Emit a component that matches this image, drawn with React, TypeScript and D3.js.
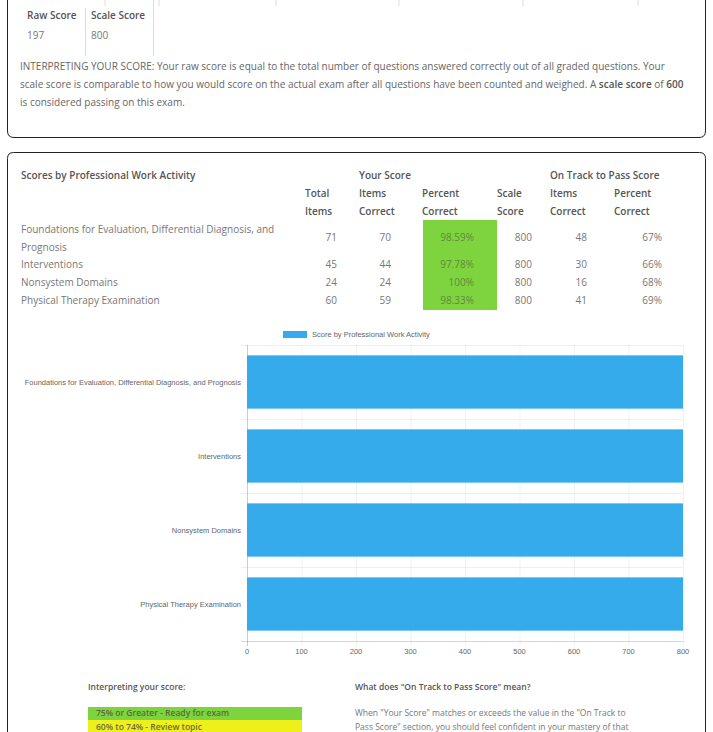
import React from "react";
import * as d3 from "d3";

const categories = [
  "Foundations for Evaluation, Differential Diagnosis, and Prognosis",
  "Interventions",
  "Nonsystem Domains",
  "Physical Therapy Examination",
];
const tableLabels = [
  ["Foundations for Evaluation, Differential Diagnosis, and", "Prognosis"],
  ["Interventions"],
  ["Nonsystem Domains"],
  ["Physical Therapy Examination"],
];
const totalItems = [71, 45, 24, 60];
const itemsCorrect = [70, 44, 24, 59];
const percentCorrect = ["98.59%", "97.78%", "100%", "98.33%"];
const scaleScores = [800, 800, 800, 800];
const onTrackItems = [48, 30, 16, 41];
const onTrackPercent = ["67%", "66%", "68%", "69%"];
const xTicks = [0, 100, 200, 300, 400, 500, 600, 700, 800];
const rawScore = 197;
const scaleScore = 800;
const legendLabel = "Score by Professional Work Activity";

const PAGE = "'Open Sans', sans-serif";
const CHART = "'Liberation Sans', Arial, sans-serif";
const TXT = "#555";
const BODY = "#666";
const LIGHT = "#777";
const GREEN = "#7ed43e";
const YELLOW = "#eef01c";
const BLUE = "#35abeb";
const SB = 600;

export default function App() {
  const x = d3.scaleLinear().domain([0, 800]).range([247, 683]);
  const y = d3.scaleBand<string>().domain(categories).range([345, 641]);
  const barH = y.bandwidth() * 0.72;

  const rowY = [238, 265, 283, 301];

  return (
    <svg
      width={713}
      height={732}
      style={{ position: "absolute", left: 0, top: 0, background: "#fff" }}
      fontFamily={PAGE}
    >
      {/* upper remnants of previous table */}
      {[105, 159, 276, 399, 523, 638].map((v) => (
        <line key={v} x1={v} x2={v} y1={0} y2={6} stroke="#ddd" />
      ))}

      {/* card 1 */}
      <path
        d="M7.5,-10 L7.5,131 Q7.5,137.5 14,137.5 L699,137.5 Q705.5,137.5 705.5,131 L705.5,-10"
        fill="none"
        stroke="#222"
      />
      <line x1={85.5} x2={85.5} y1={8} y2={56} stroke="#ddd" />
      <line x1={153.5} x2={153.5} y1={0} y2={56} stroke="#ddd" />
      <g fontSize={10} fill={BODY}>
        <text x={27} y={19} fontWeight={SB} fill={TXT}>Raw Score</text>
        <text x={91} y={19} fontWeight={SB} fill={TXT}>Scale Score</text>
        <text x={27} y={39} fill={LIGHT}>{rawScore}</text>
        <text x={91} y={39} fill={LIGHT}>{scaleScore}</text>
        <text x={20} y={70}>
          INTERPRETING YOUR SCORE: Your raw score is equal to the total number of questions answered correctly out of all graded questions. Your
        </text>
        <text x={20} y={88}>
          scale score is comparable to how you would score on the actual exam after all questions have been counted and weighed. A{" "}
          <tspan fontWeight={SB} fill={TXT}>scale score</tspan> of <tspan fontWeight={SB} fill={TXT}>600</tspan>
        </text>
        <text x={20} y={106}>is considered passing on this exam.</text>
      </g>

      {/* card 2 */}
      <path
        d="M7.5,745 L7.5,158.5 Q7.5,152.5 13.5,152.5 L699.5,152.5 Q705.5,152.5 705.5,158.5 L705.5,745"
        fill="none"
        stroke="#222"
      />
      <g fontSize={10} fill={TXT}>
        <text x={21} y={179} fontWeight={SB}>Scores by Professional Work Activity</text>
        <text x={359} y={179} fontWeight={SB}>Your Score</text>
        <text x={550} y={179} fontWeight={SB}>On Track to Pass Score</text>
        {[
          [305, "Total", "Items"],
          [359, "Items", "Correct"],
          [422, "Percent", "Correct"],
          [497, "Scale", "Score"],
          [550, "Items", "Correct"],
          [614, "Percent", "Correct"],
        ].map(([cx, a, b]) => (
          <g key={String(cx) + a}>
            <text x={cx as number} y={197} fontWeight={SB}>{a}</text>
            <text x={cx as number} y={215} fontWeight={SB}>{b}</text>
          </g>
        ))}
        <rect x={423} y={220} width={74} height={90} fill={GREEN} />
        <g fill={LIGHT}>
          {tableLabels.map((ls, i) =>
            ls.map((l, j) => (
              <text key={i + "-" + j} x={21} y={(i === 0 ? 233 : rowY[i] + 3) + j * 18}>
                {l}
              </text>
            ))
          )}
          {categories.map((c, i) => (
            <g key={c} textAnchor="end">
              <text x={337} y={rowY[i] + 3}>{totalItems[i]}</text>
              <text x={391} y={rowY[i] + 3}>{itemsCorrect[i]}</text>
              <text x={474} y={rowY[i] + 3} fill="#5f8a3c">{percentCorrect[i]}</text>
              <text x={532} y={rowY[i] + 3}>{scaleScores[i]}</text>
              <text x={587} y={rowY[i] + 3}>{onTrackItems[i]}</text>
              <text x={662} y={rowY[i] + 3}>{onTrackPercent[i]}</text>
            </g>
          ))}
        </g>
      </g>

      {/* chart */}
      <g fontFamily={CHART} fontSize={7.5} fill={BODY}>
        <rect x={283} y={331} width={24} height={7} fill={BLUE} />
        <text x={312} y={337}>{legendLabel}</text>

        {xTicks.map((t) => (
          <line
            key={"vg" + t}
            x1={x(t) + 0.5}
            x2={x(t) + 0.5}
            y1={345}
            y2={646}
            stroke={t === 0 ? "rgba(0,0,0,0.25)" : "rgba(0,0,0,0.08)"}
            strokeWidth={0.8}
          />
        ))}
        {[...categories.map((c) => y(c)!), 641].map((v, i) => (
          <line
            key={"hg" + i}
            x1={241}
            x2={683}
            y1={v + 0.5}
            y2={v + 0.5}
            stroke={i === 4 ? "rgba(0,0,0,0.2)" : "rgba(0,0,0,0.08)"}
            strokeWidth={0.8}
          />
        ))}
        {categories.map((c, i) => (
          <rect
            key={"b" + c}
            x={x(0)}
            y={y(c)! + (y.bandwidth() - barH) / 2}
            width={x(scaleScores[i]) - x(0)}
            height={barH}
            fill={BLUE}
          />
        ))}
        {categories.map((c) => (
          <text key={"yl" + c} x={241} y={y(c)! + y.bandwidth() / 2 + 2.5} textAnchor="end">
            {c}
          </text>
        ))}
        {xTicks.map((t) => (
          <text key={"xl" + t} x={x(t)} y={654} textAnchor="middle">
            {t}
          </text>
        ))}
      </g>

      {/* bottom */}
      <g fontSize={8.5} fill={TXT}>
        <text x={88} y={690} fontWeight={SB}>Interpreting your score:</text>
        <rect x={88} y={707} width={214} height={13} fill={GREEN} />
        <rect x={88} y={720} width={214} height={13} fill={YELLOW} />
        <text x={96} y={716} fontWeight={SB} fill="#5b6b3b">75% or Greater - Ready for exam</text>
        <text x={96} y={730} fontWeight={SB} fill="#6b6b3b">60% to 74% - Review topic</text>
        <text x={355} y={690} fontWeight={SB}>What does "On Track to Pass Score" mean?</text>
        <text x={355} y={716} fill={LIGHT}>When "Your Score" matches or exceeds the value in the "On Track to</text>
        <text x={355} y={730} fill={LIGHT}>Pass Score" section, you should feel confident in your mastery of that</text>
      </g>
    </svg>
  );
}
